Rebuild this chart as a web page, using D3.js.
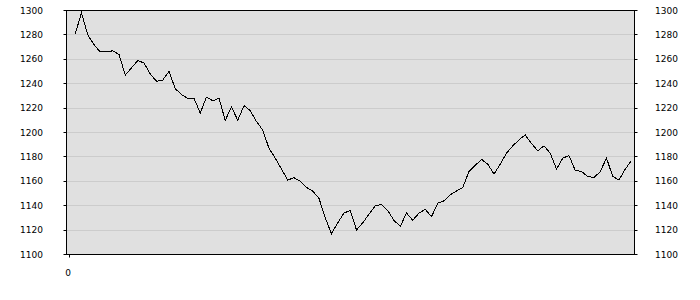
<!DOCTYPE html>
<html>
<head>
<meta charset="utf-8">
<script src="https://cdn.jsdelivr.net/npm/d3@7"></script>
<style>
  html, body { margin: 0; padding: 0; background: #ffffff; }
  svg { display: block; }
  text { font-family: "DejaVu Sans", sans-serif; font-size: 9px; fill: #000; }
</style>
</head>
<body>
<svg id="chart" width="700" height="300"></svg>
<script>
// Data: index (1..90) and value
const values = [1281, 1298, 1280, 1272, 1266, 1266, 1267, 1264, 1247, 1253,
                1259, 1257, 1248, 1242, 1243, 1250, 1236, 1231, 1228, 1228,
                1216, 1229, 1226, 1228, 1210, 1221, 1210, 1222, 1218, 1209,
                1202, 1187, 1179, 1170, 1161, 1163, 1160, 1155, 1152, 1146,
                1130, 1117, 1126, 1134, 1136, 1120, 1126, 1133, 1140, 1141,
                1136, 1128, 1123, 1134, 1128, 1134, 1137, 1131, 1142, 1144,
                1149, 1152, 1155, 1168, 1173, 1178, 1174, 1166, 1174, 1183,
                1189, 1194, 1198, 1191, 1185, 1189, 1183, 1170, 1179, 1181,
                1169, 1168, 1164, 1163, 1168, 1179, 1164, 1161, 1170, 1177];
const indices = values.map((v, i) => i + 1);
const yTicks = [1100, 1120, 1140, 1160, 1180, 1200, 1220, 1240, 1260, 1280, 1300];
const xTicks = [0];

const svg = d3.select("#chart");
const pLeft = 66.5, pRight = 634.5, pTop = 10.5, pBottom = 254.5;

const x = d3.scaleLinear().domain([0, 90]).range([69, 631.5]);
const y = d3.scaleLinear().domain([1100, 1300]).range([pBottom, pTop]);

// plot background
svg.append("rect")
  .attr("x", pLeft).attr("y", pTop)
  .attr("width", pRight - pLeft).attr("height", pBottom - pTop)
  .attr("fill", "#e0e0e0");

// gridlines
svg.append("g").selectAll("line")
  .data(yTicks.filter(t => t > 1100 && t < 1300))
  .join("line")
  .attr("x1", pLeft).attr("x2", pRight)
  .attr("y1", d => Math.floor(y(d)) + 0.5).attr("y2", d => Math.floor(y(d)) + 0.5)
  .attr("stroke", "#cccccc").attr("stroke-width", 1);

// line
const line = d3.line().x((d, i) => x(indices[i])).y(d => y(d));
svg.append("path")
  .datum(values)
  .attr("d", line)
  .attr("fill", "none")
  .attr("stroke", "#000")
  .attr("stroke-width", 1)
  .attr("shape-rendering", "crispEdges");

// frame
svg.append("rect")
  .attr("x", pLeft).attr("y", pTop)
  .attr("width", pRight - pLeft).attr("height", pBottom - pTop)
  .attr("fill", "none").attr("stroke", "#000").attr("stroke-width", 1);

// left axis
const gl = svg.append("g");
gl.selectAll("line").data(yTicks).join("line")
  .attr("x1", pLeft - 3).attr("x2", pLeft)
  .attr("y1", d => Math.floor(y(d)) + 0.5).attr("y2", d => Math.floor(y(d)) + 0.5)
  .attr("stroke", "#000");
gl.selectAll("text").data(yTicks).join("text")
  .attr("x", 43).attr("y", d => y(d))
  .attr("dy", "0.35em")
  .attr("text-anchor", "end")
  .text(d => d);

// right axis
const gr = svg.append("g");
gr.selectAll("line").data(yTicks).join("line")
  .attr("x1", pRight).attr("x2", pRight + 3)
  .attr("y1", d => Math.floor(y(d)) + 0.5).attr("y2", d => Math.floor(y(d)) + 0.5)
  .attr("stroke", "#000");
gr.selectAll("text").data(yTicks).join("text")
  .attr("x", 655).attr("y", d => y(d))
  .attr("dy", "0.35em")
  .attr("text-anchor", "start")
  .text(d => d);

// bottom axis
const gb = svg.append("g");
gb.selectAll("line").data(xTicks).join("line")
  .attr("x1", d => Math.round(x(d)) + 0.5).attr("x2", d => Math.round(x(d)) + 0.5)
  .attr("y1", pBottom).attr("y2", pBottom + 3)
  .attr("stroke", "#000");
gb.selectAll("text").data(xTicks).join("text")
  .attr("x", d => x(d) - 1).attr("y", 273)
  .attr("dy", "0.35em")
  .attr("text-anchor", "middle")
  .text(d => d);
</script>
</body>
</html>
